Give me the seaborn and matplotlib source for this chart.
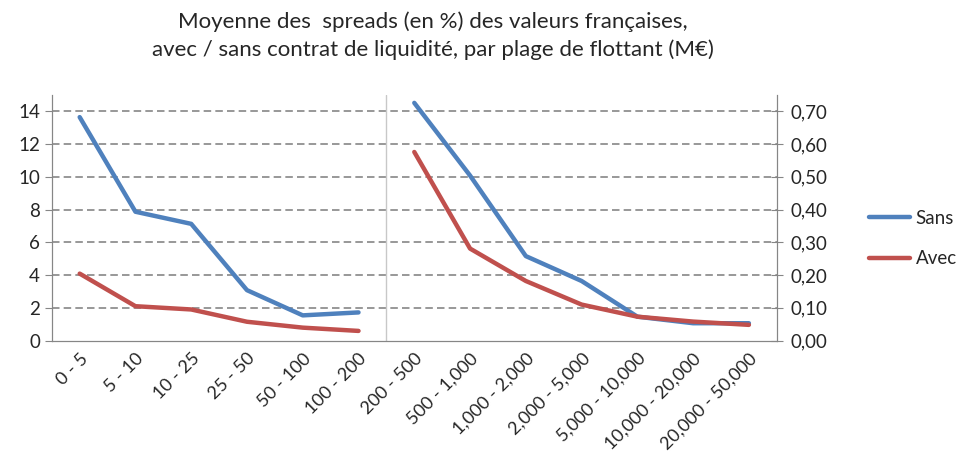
import pandas as pd
import matplotlib
matplotlib.use("Agg")
import matplotlib.pyplot as plt
from matplotlib.lines import Line2D
from matplotlib.ticker import FuncFormatter
import seaborn as sns

plages = ["0 - 5", "5 - 10", "10 - 25", "25 - 50", "50 - 100", "100 - 200",
          "200 - 500", "500 - 1,000", "1,000 - 2,000", "2,000 - 5,000",
          "5,000 - 10,000", "10,000 - 20,000", "20,000 - 50,000"]
# petits flottants -> axe gauche
sans_petits = [13.65, 7.87, 7.13, 3.08, 1.54, 1.72]
avec_petits = [4.09, 2.10, 1.90, 1.15, 0.79, 0.59]
# grands flottants -> axe droit
sans_grands = [0.726, 0.504, 0.258, 0.182, 0.073, 0.053, 0.053]
avec_grands = [0.576, 0.281, 0.182, 0.110, 0.073, 0.058, 0.048]

BLEU = "#4F81BD"
ROUGE = "#C0504D"
GRIS = "#868686"

n_left = len(sans_petits)
df_left = pd.DataFrame({
    "idx": list(range(n_left)) * 2,
    "spread": sans_petits + avec_petits,
    "serie": ["Sans"] * n_left + ["Avec"] * n_left,
})
n_right = len(sans_grands)
idx_right = list(range(n_left, n_left + n_right))
df_right = pd.DataFrame({
    "idx": idx_right * 2,
    "spread": sans_grands + avec_grands,
    "serie": ["Sans"] * n_right + ["Avec"] * n_right,
})

sns.set_style("white")
plt.rcParams["font.family"] = ["Lato", "DejaVu Sans"]

fig = plt.figure(figsize=(9.59, 4.59), dpi=100)
ax = fig.add_axes([0.054, 0.258, 0.756, 0.535])
ax2 = ax.twinx()

pal = {"Sans": BLEU, "Avec": ROUGE}
sns.lineplot(data=df_left, x="idx", y="spread", hue="serie", palette=pal,
             linewidth=3.2, ax=ax, legend=False)
sns.lineplot(data=df_right, x="idx", y="spread", hue="serie", palette=pal,
             linewidth=3.2, ax=ax2, legend=False)

n = len(plages)
ax.set_xlim(-0.5, n - 0.5)
ax.set_ylim(0, 15)
ax2.set_ylim(0, 0.75)
ax.set_yticks(range(0, 15, 2))
ax2.set_yticks([i / 10 for i in range(8)])
ax2.yaxis.set_major_formatter(FuncFormatter(lambda v, p: f"{v:.2f}".replace(".", ",")))

# grille pointillée
for y in range(2, 15, 2):
    ax.axhline(y, color=GRIS, lw=1.2, ls=(0, (4.5, 2.5)), zorder=0)
ax.axvline(n_left - 0.5, color="#C8C8C8", lw=1, zorder=0)

ax.set_xticks([i - 0.5 for i in range(n + 1)])
ax.set_xticklabels([])
ax.set_xticks(range(n), minor=True)
ax.set_xticklabels(plages, minor=True, rotation=45, ha="right", va="top",
                   rotation_mode="anchor", fontsize=13)
ax.tick_params(axis="x", which="major", length=5, color=GRIS, width=1, direction="out")
ax.tick_params(axis="x", which="minor", length=0, pad=7)
ax.tick_params(axis="y", length=5, color=GRIS, labelsize=13.5, direction="out")
ax2.tick_params(axis="y", length=8, color=GRIS, labelsize=13.5, direction="inout", pad=6)

for a in (ax, ax2):
    for s in ("left", "right", "bottom"):
        a.spines[s].set_color(GRIS)
    a.spines["top"].set_visible(False)
    a.set_xlabel("")
    a.set_ylabel("")

handles = [Line2D([], [], color=BLEU, lw=3.2), Line2D([], [], color=ROUGE, lw=3.2)]
fig.legend(handles, ["Sans", "Avec"], loc="center left",
           bbox_to_anchor=(0.906, 0.480), frameon=False, fontsize=13.5,
           handlelength=2.2, labelspacing=1.25, handletextpad=0.3,
           borderpad=0, borderaxespad=0)

fig.text(0.451, 0.953, "Moyenne des  spreads (en %) des valeurs françaises,",
         ha="center", va="center", fontsize=16)
fig.text(0.451, 0.892, "avec / sans contrat de liquidité, par plage de flottant (M€)",
         ha="center", va="center", fontsize=16)

fig.savefig("out.png", dpi=100)
